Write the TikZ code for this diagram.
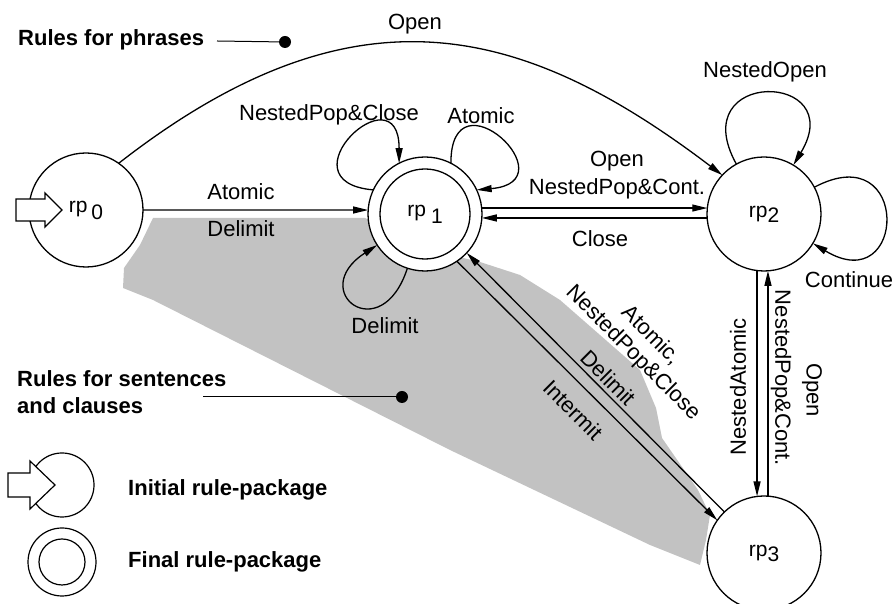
\documentclass[tikz,border=0pt]{standalone}
\usepackage{fontspec}
\setmainfont{Liberation Sans}
\usetikzlibrary{arrows.meta,calc}
\begin{document}
\begin{tikzpicture}[x=1pt,y=1pt,
  rpnode/.style={circle,draw,line width=1.3pt,fill=white,minimum size=114pt,inner sep=0pt,outer sep=0pt,font=\fontsize{21}{21}\selectfont},
  lbl/.style={inner sep=0pt,font=\fontsize{22}{25}\selectfont},
  note/.style={inner sep=0pt,font=\fontsize{22}{27}\selectfont\bfseries,align=left},
  arr/.style={line width=1.3pt,-{Triangle[length=15pt,width=7pt]}},
  ln/.style={line width=1.3pt},
  shadefill/.style={fill=black!24,draw=none}
]
\useasboundingbox (0,0) rectangle (895,604);

% shaded region (rules for sentences and clauses)
\fill[shadefill] (153,386) -- (365,386) -- (430,354) -- (480,342) -- (520,329) -- (560,304)
  -- (600,269) -- (640,234) -- (656,196) -- (662,166) -- (698,114) -- (710,89) -- (706,64)
  -- (700,39) -- (650,59) -- (450,154) -- (153,304) -- (123,316) -- (124,336) -- (140,359) -- cycle;

% states
\node[rpnode] (rp0) at (86,394) {rp\kern4pt\raisebox{-7pt}{0}};
\node[rpnode] (rp1) at (425,390) {rp\kern5pt\raisebox{-7pt}{1}};
\draw[ln] (rp1.center) circle[radius=45];
\node[rpnode] (rp2) at (764,390) {rp\raisebox{-5pt}{2}};
\node[rpnode] (rp3) at (764,51) {rp\raisebox{-5pt}{3}};

% entry arrow
\draw[ln,fill=white] (16,383) -- (45,383) -- (45,377) -- (62,394) -- (45,411) -- (45,405) -- (16,405) -- cycle;

% transitions
\draw[arr] (rp0.55) .. controls (355,625) and (523,580) .. (rp2.137);
\draw[arr] (rp0.east) -- (rp1.176);
\draw[arr] (rp1.6) -- (rp2.174);
\draw[arr] (rp2.184) -- (rp1.-4);
\draw[arr] (rp1.155) .. controls +(175:95) and +(90:95) .. (rp1.117);
\draw[arr] (rp1.63) .. controls +(90:95) and +(5:95) .. (rp1.25);
\draw[arr] (rp1.252) .. controls +(252:85) and +(213:85) .. (rp1.213);
\draw[arr] (rp2.119) .. controls +(119:110) and +(59:110) .. (rp2.59);
\draw[arr] (rp2.28) .. controls +(28:110) and +(-31:110) .. (rp2.-31);
\draw[arr] (rp3.134) -- (rp1.-43);
\draw[arr] (rp1.-56.5) -- (rp3.145);
\draw[arr] (rp2.263) -- (rp3.97);
\draw[arr] (rp3.86) -- (rp2.274);

% labels
\node[lbl] (tOpen) at (415,580) {Open};
\node[lbl] (tA01) at (241,412) {Atomic};
\node[lbl] (tD01) at (241,375) {Delimit};
\node[lbl] (tNPC1) at (329,489) {NestedPop\&Close};
\node[lbl] (tA11) at (481,488) {Atomic};
\node[lbl] (tO12) at (617,443) {Open};
\node[lbl] (tN12) at (617,415) {NestedPop\&Cont.};
\node[lbl] (tC21) at (600,365) {Close};
\node[lbl] (tNO) at (765,532) {NestedOpen};
\node[lbl] (tCo) at (849,324) {Continue};
\node[lbl] (tD11) at (385,278) {Delimit};
\node[lbl,rotate=-45,align=center] (tA31) at (630,248) {Atomic,\\NestedPop\&Close\\[12pt]Delimit};
\node[lbl,rotate=-45] (tI13) at (573,194) {Intermit};
\node[lbl,rotate=90] (tNA) at (738,217) {NestedAtomic};
\node[lbl,rotate=-90] (tN32) at (781,226) {NestedPop\&Cont.};
\node[lbl,rotate=-90] (tO32) at (812,214) {Open};

% annotations
\node[note,anchor=west] (ph) at (18,564) {Rules for phrases};
\coordinate (p1) at (217,563);
\coordinate (d1) at (285,562);
\draw[line width=1pt] (p1) -- (d1);
\fill (d1) circle[radius=6];

\node[note,anchor=west] (sc) at (17,212) {Rules for sentences\\and clauses};
\coordinate (p2) at (203,207);
\coordinate (d2) at (402,207);
\draw[line width=1pt] (p2) -- (d2);
\fill (d2) circle[radius=6];

% legend
\node[circle,draw,line width=1.2pt,minimum size=64pt,inner sep=0pt,outer sep=0pt] (lg1) at (62,119) {};
\draw[line width=1.2pt,fill=white] (8,107) -- (30,107) -- (30,95) -- (55,119) -- (30,143) -- (30,131) -- (8,131) -- cycle;
\node[note,anchor=west] (tl1) at (128,114) {Initial rule-package};
\node[circle,draw,line width=1.2pt,minimum size=68pt,inner sep=0pt,outer sep=0pt] (lg2) at (62,42) {};
\draw[line width=1.2pt] (lg2.center) circle[radius=23];
\node[note,anchor=west] (tl2) at (128,42) {Final rule-package};
\end{tikzpicture}
\end{document}
